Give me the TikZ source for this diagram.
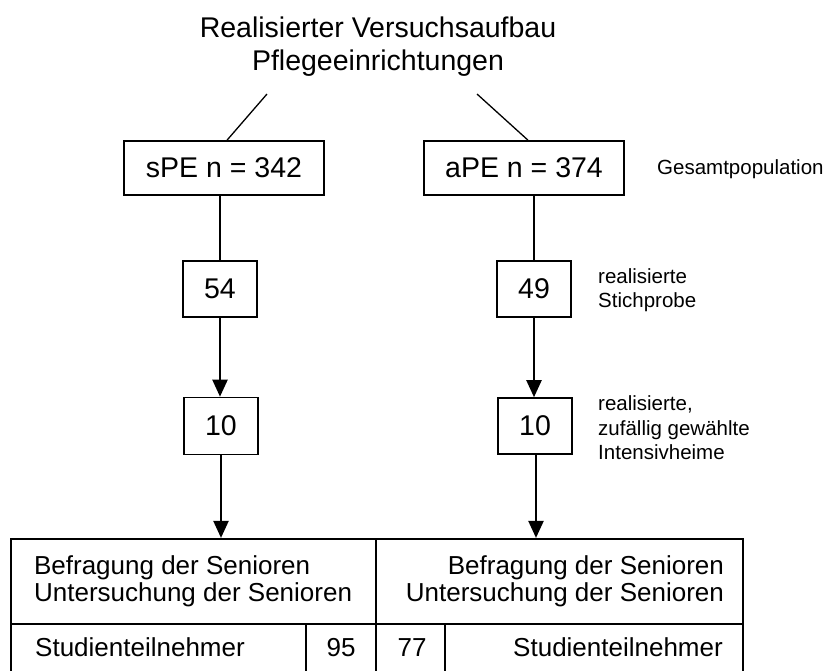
\documentclass[tikz,border=0pt]{standalone}
\usepackage{fontspec}
\setmainfont{Liberation Sans}
\usetikzlibrary{arrows.meta,positioning}

\begin{document}
\begin{tikzpicture}[x=1pt,y=-1pt,
  box/.style={draw,line width=1.6pt,inner sep=0pt,font=\fontsize{28.5}{32}\selectfont},
  note/.style={anchor=west,align=left,inner sep=0pt,font=\fontsize{20.5}{24.5}\selectfont},
  cell/.style={draw,line width=2.2pt,inner sep=0pt},
  celltext/.style={inner sep=0pt,font=\fontsize{26}{27}\selectfont},
  link/.style={line width=1.3pt},
  arr/.style={line width=2.2pt,-{Triangle[length=17pt,width=15pt]}}]

\useasboundingbox (0,0) rectangle (832,670);

\node[align=center,inner sep=0pt,font=\fontsize{28.5}{33}\selectfont] (title) at (378,47)
  {Realisierter Versuchsaufbau\\Pflegeeinrichtungen};

\node[box,minimum width=200pt,minimum height=54pt] (spe) at (224,168) {sPE n = 342};
\node[box,minimum width=200pt,minimum height=54pt] (ape) at (524,168) {aPE n = 374};
\node[note] (gesamt) at (657,169) {Gesamtpopulation};

\node[box,minimum width=74pt,minimum height=56pt] (s54) at (220,289) {54};
\node[box,minimum width=74pt,minimum height=57pt] (s10) at (221,426) {10};
\node[box,minimum width=74pt,minimum height=56pt] (a49) at (534,289) {49};
\node[box,minimum width=74pt,minimum height=56pt] (a10) at (535,426) {10};

\node[note] (stich) at (598,290) {realisierte\\Stichprobe};
\node[note] (intens) at (598,428) {realisierte,\\zufällig gewählte\\Intensivheime};

% table
\node[cell,minimum width=365pt,minimum height=85pt] (befl) at (193.5,581.5) {};
\node[cell,minimum width=367pt,minimum height=85pt] (befr) at (559.5,581.5) {};
\node[cell,minimum width=295pt,minimum height=86pt] (stl) at (158.5,667) {};
\node[cell,minimum width=70pt,minimum height=86pt] (n95) at (341,667) {};
\node[cell,minimum width=69pt,minimum height=86pt] (n77) at (410.5,667) {};
\node[cell,minimum width=298pt,minimum height=86pt] (str) at (594,667) {};

\node[celltext,anchor=west,align=left] (befltext) at ([xshift=24pt]befl.west)
  {Befragung der Senioren\\Untersuchung der Senioren};
\node[celltext,anchor=east,align=right] (befrtext) at ([xshift=-20pt]befr.east)
  {Befragung der Senioren\\Untersuchung der Senioren};
\node[celltext,anchor=base west] (stltext) at (35,656) {Studienteilnehmer};
\node[celltext,anchor=base] (n95text) at (341,656) {95};
\node[celltext,anchor=base] (n77text) at (412,656) {77};
\node[celltext,anchor=base east] (strtext) at (723,656) {Studienteilnehmer};

\coordinate (ls) at (267,94);
\coordinate (rs) at (477,94);
\draw[link] (ls) -- ([xshift=3pt]spe.north);
\draw[link] (rs) -- ([xshift=4pt]ape.north);

\draw[link] (s54.north |- spe.south) -- (s54.north);
\draw[link] (a49.north |- ape.south) -- (a49.north);
\draw[arr] (s54.south) -- (s54.south |- s10.north);
\draw[arr] (a49.south) -- (a49.south |- a10.north);
\draw[arr] (s10.south) -- (s10.south |- befl.north);
\draw[arr] ([xshift=1pt]a10.south) -- ([xshift=1pt]a10.south |- befr.north);

\end{tikzpicture}
\end{document}
